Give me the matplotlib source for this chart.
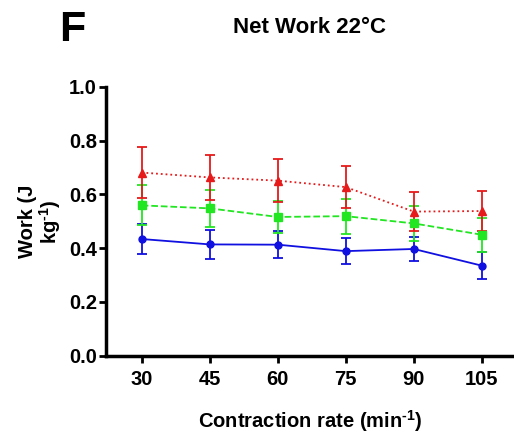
import matplotlib
matplotlib.use('Agg')
import matplotlib.pyplot as plt
import numpy as np

plt.rcParams['font.family'] = ['Liberation Sans', 'DejaVu Sans']
plt.rcParams['font.weight'] = 'bold'
plt.rcParams['mathtext.fontset'] = 'custom'
plt.rcParams['mathtext.rm'] = 'Liberation Sans:bold'
plt.rcParams['mathtext.bf'] = 'Liberation Sans:bold'
plt.rcParams['mathtext.default'] = 'bf'

# contraction rates (min^-1)
rate = np.array([30, 45, 60, 75, 90, 105])

# net work (J kg^-1), mean and error per group
red_mean = [0.681, 0.663, 0.651, 0.627, 0.536, 0.538]
red_err = [0.095, 0.083, 0.080, 0.079, 0.072, 0.076]
green_mean = [0.559, 0.548, 0.516, 0.519, 0.492, 0.450]
green_err = [0.074, 0.068, 0.061, 0.065, 0.066, 0.064]
blue_mean = [0.434, 0.414, 0.413, 0.389, 0.397, 0.335]
blue_err = [0.056, 0.053, 0.049, 0.049, 0.046, 0.049]

fig = plt.figure(figsize=(5.14, 4.36), dpi=100)
ax = fig.add_axes([0.206, 0.184, 0.794, 0.617])

ax.errorbar(rate, blue_mean, yerr=blue_err, color='#1010e0', ls='-', lw=1.3,
            marker='o', ms=5, capsize=3.5, elinewidth=1.3, capthick=1.3)
ax.errorbar(rate, green_mean, yerr=green_err, color='#22e622', ls='--', lw=1.3,
            marker='s', ms=5.5, capsize=3.5, elinewidth=1.3, capthick=1.3)
ax.errorbar(rate, red_mean, yerr=red_err, color='#e61a1a', ls=':', lw=1.3,
            marker='^', ms=5.5, capsize=3.5, elinewidth=1.3, capthick=1.3)

ax.set_xlim(22.1, 112.1)
ax.set_ylim(0, 1.0)
ax.set_xticks(rate)
ax.set_yticks([0.0, 0.2, 0.4, 0.6, 0.8, 1.0])
ax.set_yticklabels(['0.0', '0.2', '0.4', '0.6', '0.8', '1.0'])

for s in ['top', 'right']:
    ax.spines[s].set_visible(False)
for s in ['left', 'bottom']:
    ax.spines[s].set_linewidth(2.5)
ax.tick_params(width=2, length=5, labelsize=14.5)
ax.tick_params(axis='x', pad=5)
ax.tick_params(axis='y', pad=1.5)
for lab in ax.get_xticklabels() + ax.get_yticklabels():
    lab.set_fontweight('bold')

ax.set_xlabel('Contraction rate (min$^{\\text{-1}}$)', fontsize=14.5, fontweight='bold', labelpad=14)
ax.set_ylabel('Work (J\nkg$^{\\text{-1}}$)', fontsize=14.5, fontweight='bold', labelpad=4,
              linespacing=1.0)

fig.text(0.603, 0.936, 'Net Work 22°C', ha='center', va='center', fontsize=16, fontweight='bold')
fig.text(0.14, 0.932, 'F', ha='center', va='center', fontsize=31, fontweight='bold')

fig.savefig('out.png', dpi=100)
